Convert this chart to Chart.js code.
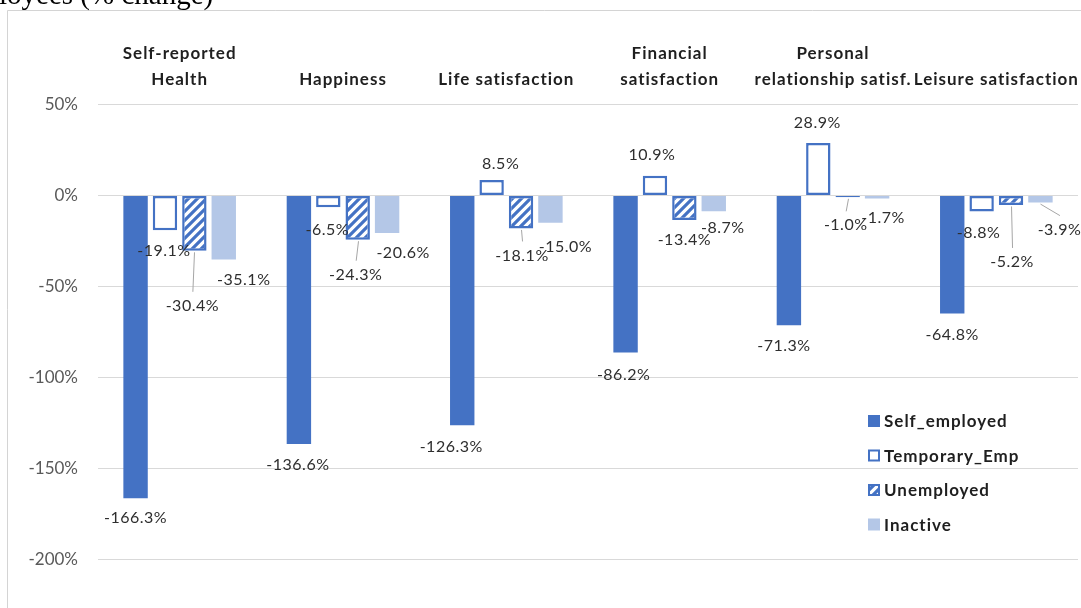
<!DOCTYPE html>
<html>
<head>
<meta charset="utf-8">
<script src="https://cdn.jsdelivr.net/npm/chart.js@4.4.1/dist/chart.umd.min.js"></script>
<style>
  html, body { margin: 0; padding: 0; background: #fff; overflow: hidden; }
  canvas { display: block; }
</style>
</head>
<body>
<canvas id="chart" width="1081" height="608"></canvas>
<script>
// ---- data ----
const categories = [
  ['Self-reported', 'Health'],
  ['Happiness'],
  ['Life satisfaction'],
  ['Financial', 'satisfaction'],
  ['Personal', 'relationship satisf.'],
  ['Leisure satisfaction']
];
const seriesNames = ['Self_employed', 'Temporary_Emp', 'Unemployed', 'Inactive'];
const selfEmployed = [-166.3, -136.6, -126.3, -86.2, -71.3, -64.8];
const temporaryEmp = [-19.1, -6.5, 8.5, 10.9, 28.9, -8.8];
const unemployed   = [-30.4, -24.3, -18.1, -13.4, -1.0, -5.2];
const inactive     = [-35.1, -20.6, -15.0, -8.7, -1.7, -3.9];
const yTicks = [50, 0, -50, -100, -150, -200];
const titleText = 'loyees (% change)';

// ---- label placement: [dx, dy from bar end, leader line] ----
const labelNudges = [
  [[0, 20, 0], [-1, 21, 0], [-11, 21, 0], [-2, 22, 0], [-5, 21, 0], [0, 21, 0]],
  [[-1, 21, 0], [-1, 23, 0], [9, -16, 0], [-3, -21, 0], [-1, -20, 0], [-3, 21, 0]],
  [[-2, 55, 1], [-2, 35, 1], [1, 27, 1], [0, 20, 0], [-2, 28, 1], [1, 57, 1]],
  [[20, 20, 0], [16, 20, 0], [15, 24, 0], [9, 17, 0], [6, 19, 0], [19, 27, 1]]
];

const BLUE = '#4472C4';
const LIGHT = '#B4C7E7';
const FONT = 'Lato, "Open Sans", sans-serif';

function makeHatch() {
  const s = 9;
  const c = document.createElement('canvas');
  c.width = s; c.height = s;
  const g = c.getContext('2d');
  g.fillStyle = '#fff';
  g.fillRect(0, 0, s, s);
  g.strokeStyle = BLUE;
  g.lineWidth = 3.2;
  g.beginPath();
  g.moveTo(-2, s + 2); g.lineTo(s + 2, -2);
  g.moveTo(-2, 2); g.lineTo(2, -2);
  g.moveTo(s - 2, s + 2); g.lineTo(s + 2, s - 2);
  g.stroke();
  return document.getElementById('chart').getContext('2d').createPattern(c, 'repeat');
}
const hatch = makeHatch();

// frame, clipped title line
const backdrop = {
  id: 'backdrop',
  beforeDraw(chart) {
    const ctx = chart.ctx;
    ctx.save();
    ctx.fillStyle = '#fff';
    ctx.fillRect(0, 0, chart.width, chart.height);
    ctx.strokeStyle = '#D4D4D4';
    ctx.lineWidth = 1;
    ctx.beginPath();
    ctx.moveTo(7.5, chart.height);
    ctx.lineTo(7.5, 10.5);
    ctx.lineTo(chart.width, 10.5);
    ctx.stroke();
    ctx.fillStyle = '#000';
    ctx.font = '29px "Liberation Serif", "Times New Roman", serif';
    ctx.textAlign = 'left';
    ctx.textBaseline = 'alphabetic';
    ctx.fillText(titleText, -1, 3.5);
    ctx.restore();
  }
};

// category names above each group
const categoryTitles = {
  id: 'categoryTitles',
  afterDraw(chart) {
    const ctx = chart.ctx;
    const xs = chart.scales.x;
    ctx.save();
    ctx.fillStyle = '#1f1f1f';
    ctx.font = 'bold 17px ' + FONT;
    ctx.letterSpacing = '1px';
    ctx.textAlign = 'center';
    ctx.textBaseline = 'alphabetic';
    categories.forEach((lines, i) => {
      const x = xs.getPixelForValue(i);
      const lastBase = 85;
      lines.forEach((t, k) => {
        const y = lastBase - (lines.length - 1 - k) * 26;
        ctx.fillText(t, x, y);
      });
    });
    ctx.restore();
  }
};

// value labels with leader lines
const valueLabels = {
  id: 'valueLabels',
  afterDatasetsDraw(chart) {
    const ctx = chart.ctx;
    ctx.save();
    ctx.font = '16px ' + FONT;
    ctx.letterSpacing = '0.5px';
    ctx.textAlign = 'center';
    ctx.textBaseline = 'middle';
    chart.data.datasets.forEach((ds, di) => {
      const meta = chart.getDatasetMeta(di);
      meta.data.forEach((bar, i) => {
        const v = ds.data[i];
        const [dx, dy, lead] = labelNudges[di][i];
        const lx = bar.x + dx;
        const ly = bar.y + dy;
        if (lead) {
          ctx.strokeStyle = '#A6A6A6';
          ctx.lineWidth = 1;
          ctx.beginPath();
          ctx.moveTo(Math.round(bar.x) + 0.5, bar.y + 1.5);
          ctx.lineTo(lx + 0.5, ly - 14);
          ctx.stroke();
        }
        ctx.fillStyle = '#2e2e2e';
        ctx.fillText(v.toFixed(1) + '%', lx, ly);
      });
    });
    ctx.restore();
  }
};

// legend inside the plot, lower right
const innerLegend = {
  id: 'innerLegend',
  afterDraw(chart) {
    const ctx = chart.ctx;
    const area = chart.chartArea;
    const x0 = area.right - 210;
    const y0 = area.bottom - 138.5;
    ctx.save();
    ctx.font = 'bold 17px ' + FONT;
    ctx.letterSpacing = '1px';
    ctx.textAlign = 'left';
    ctx.textBaseline = 'middle';
    chart.data.datasets.forEach((ds, di) => {
      const cy = y0 + di * 34.5;
      const s = 12;
      ctx.fillStyle = ds.backgroundColor;
      ctx.fillRect(x0, cy - s / 2, s, s);
      if (ds.borderWidth) {
        ctx.strokeStyle = ds.borderColor;
        ctx.lineWidth = 2;
        ctx.strokeRect(x0 + 1, cy - s / 2 + 1, s - 2, s - 2);
      }
      ctx.fillStyle = '#1f1f1f';
      ctx.fillText(ds.label, x0 + 16, cy + 1);
    });
    ctx.restore();
  }
};

new Chart(document.getElementById('chart'), {
  type: 'bar',
  data: {
    labels: categories,
    datasets: [
      { label: seriesNames[0], data: selfEmployed, backgroundColor: BLUE, borderWidth: 0 },
      { label: seriesNames[1], data: temporaryEmp, backgroundColor: '#ffffff', borderColor: BLUE, borderWidth: 2.5, borderSkipped: false },
      { label: seriesNames[2], data: unemployed, backgroundColor: hatch, borderColor: BLUE, borderWidth: 2.5, borderSkipped: false },
      { label: seriesNames[3], data: inactive, backgroundColor: LIGHT, borderWidth: 0 }
    ]
  },
  options: {
    responsive: false,
    devicePixelRatio: 1,
    animation: false,
    events: [],
    layout: { padding: { left: 0, right: 3, top: 104.5, bottom: 48.5 } },
    datasets: { bar: { categoryPercentage: 0.72, barPercentage: 0.83 } },
    plugins: { legend: { display: false }, tooltip: { enabled: false } },
    scales: {
      x: { display: false },
      y: {
        min: -200,
        max: 50,
        afterBuildTicks(scale) { scale.ticks = yTicks.map(v => ({ value: v })); },
        afterFit(scale) { scale.width = 98; },
        border: { display: false },
        grid: { color: '#D9D9D9', lineWidth: 1, drawTicks: false },
        ticks: {
          padding: 20,
          color: '#595959',
          font: { family: FONT, size: 17 },
          callback: v => v + '%'
        }
      }
    }
  },
  plugins: [backdrop, categoryTitles, valueLabels, innerLegend]
});
</script>
</body>
</html>
